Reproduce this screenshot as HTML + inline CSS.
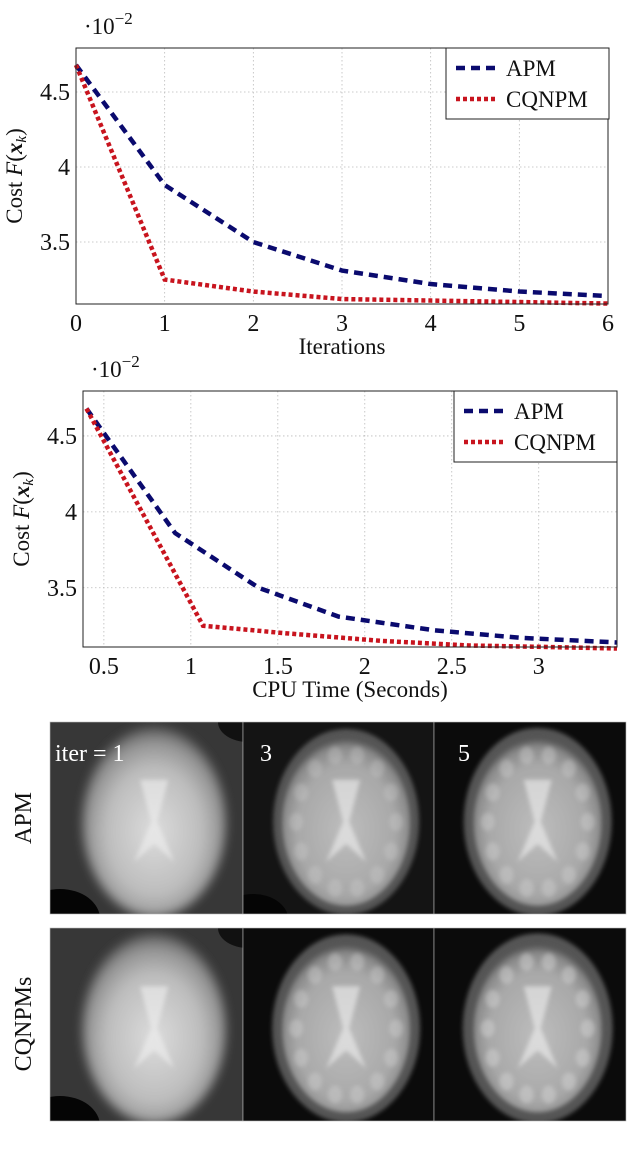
<!DOCTYPE html>
<html><head><meta charset="utf-8">
<style>
html,body{margin:0;padding:0;background:#fff;}
svg{display:block;font-family:"Liberation Serif",serif;}
</style></head>
<body>
<svg id="fig" width="629" height="1163" viewBox="0 0 629 1163">
<defs id="defs">
  <filter id="blur3" x="-20%" y="-20%" width="140%" height="140%"><feGaussianBlur stdDeviation="5"/></filter>
  <filter id="blur1" x="-20%" y="-20%" width="140%" height="140%"><feGaussianBlur stdDeviation="2.2"/></filter>
  <radialGradient id="brainSoft" cx="50%" cy="55%" r="55%">
    <stop offset="0" stop-color="#dcdcdc"/><stop offset="0.6" stop-color="#bdbdbd"/><stop offset="0.85" stop-color="#939393"/><stop offset="1" stop-color="#555"/>
  </radialGradient>
  <radialGradient id="brainMid" cx="50%" cy="55%" r="55%">
    <stop offset="0" stop-color="#bdbdbd"/><stop offset="0.7" stop-color="#a8a8a8"/><stop offset="0.9" stop-color="#8a8a8a"/><stop offset="1" stop-color="#505050"/>
  </radialGradient>
</defs>
<g id="chart1"></g>
<g id="chart2"></g>
<g id="images"></g>
</svg>
<script>
// ---- Chart 1 data ----
const iterCategories = [0, 1, 2, 3, 4, 5, 6];
const iterApm = [4.68, 3.88, 3.50, 3.31, 3.22, 3.17, 3.14];
const iterCqnpm = [4.68, 3.25, 3.17, 3.12, 3.11, 3.10, 3.09];
const iterXTicks = ["0","1","2","3","4","5","6"];
const iterYTicks = ["3.5","4","4.5"];
// ---- Chart 2 data ----
const cpuApmX = [0.40, 0.91, 1.39, 1.85, 2.40, 2.90, 3.45];
const cpuApmY = [4.68, 3.86, 3.50, 3.31, 3.22, 3.17, 3.14];
const cpuCqnpmX = [0.40, 1.07, 1.55, 2.10, 2.60, 3.05, 3.45];
const cpuCqnpmY = [4.68, 3.25, 3.20, 3.15, 3.12, 3.11, 3.10];
const cpuXTicks = ["0.5","1","1.5","2","2.5","3"];
const cpuYTicks = ["3.5","4","4.5"];

const NS = "http://www.w3.org/2000/svg";
function mk(tag, attrs, parent){const e=document.createElementNS(NS,tag);for(const k in attrs)e.setAttribute(k,attrs[k]);parent.appendChild(e);return e;}

function drawChart(g, box, xdom, ydom, xticks, yticks, series, xlabel, legendBox){
  const sx=v=>box.l+(v-xdom[0])/(xdom[1]-xdom[0])*(box.r-box.l);
  const sy=v=>box.b-(v-ydom[0])/(ydom[1]-ydom[0])*(box.b-box.t);
  xticks.forEach(t=>{const x=sx(parseFloat(t));
    const gl=mk('line',{x1:x,x2:x,y1:box.t,y2:box.b,stroke:'#bbb','stroke-width':0.8,'stroke-dasharray':'1.5 2.5'},g);
    
    
    const tx=mk('text',{x:x,y:box.b+27,'font-size':24,'text-anchor':'middle',fill:'#111'},g);tx.textContent=t;
    
    
  });
  yticks.forEach(t=>{const y=sy(parseFloat(t));
    const gl=mk('line',{x1:box.l,x2:box.r,y1:y,y2:y,stroke:'#bbb','stroke-width':0.8,'stroke-dasharray':'1.5 2.5'},g);
    
    
    const tx=mk('text',{x:box.l-6,y:y+8,'font-size':24,'text-anchor':'end',fill:'#111'},g);tx.textContent=t;
    
    
  });
  series.forEach(s=>{
    const pts=s.x.map((v,i)=>sx(v)+','+sy(s.y[i])).join(' ');
    const pl=mk('polyline',{points:pts,fill:'none',stroke:s.color,'stroke-width':4.5,'stroke-dasharray':s.dash},g);
    
    
  });
  const fr=mk('rect',{x:box.l,y:box.t,width:box.r-box.l,height:box.b-box.t,fill:'none',stroke:'#222','stroke-width':1},g);
  
  
  const mult=mk('text',{x:box.l+8,y:box.t-14,'font-size':23,fill:'#111'},g);
  mult.innerHTML='·10<tspan dy="-10" font-size="17">−2</tspan>';
  
  
  const yl=mk('text',{transform:`translate(${box.l-54},${(box.t+box.b)/2}) rotate(-90)`,'font-size':23,'text-anchor':'middle',fill:'#111'},g);
  yl.innerHTML='Cost <tspan font-style="italic">F</tspan>(<tspan font-style="italic" font-weight="bold">x</tspan><tspan font-style="italic" font-size="15" dy="4">k</tspan><tspan dy="-4">)</tspan>';
  
  
  const xl=mk('text',{x:(box.l+box.r)/2,y:box.b+50,'font-size':23,'text-anchor':'middle',fill:'#111'},g);xl.textContent=xlabel;
  
  
  const lg=mk('g',{},g);
  
  
  mk('rect',{x:legendBox.x,y:legendBox.y,width:legendBox.w,height:legendBox.h,fill:'#fff',stroke:'#222','stroke-width':1},lg);
  series.forEach((s,i)=>{const y=legendBox.y+20+i*31;
    mk('line',{x1:legendBox.x+10,x2:legendBox.x+50,y1:y,y2:y,stroke:s.color,'stroke-width':4.5,'stroke-dasharray':s.dash},lg);
    const t=mk('text',{x:legendBox.x+60,y:y+8,'font-size':23,fill:'#111'},lg);t.textContent=s.label;
    
    
  });
}
drawChart(document.getElementById('chart1'),{l:76,r:608,t:48,b:304},[0,6],[3.087,4.793],iterXTicks,iterYTicks,
 [{x:iterCategories,y:iterApm,color:'#0a0a6e',dash:'9 6',name:'apm-line',label:'APM'},
  {x:iterCategories,y:iterCqnpm,color:'#c8141e',dash:'4 3',name:'cqnpm-line',label:'CQNPM'}],
 'Iterations',{x:446,y:48,w:163,h:71});
drawChart(document.getElementById('chart2'),{l:83,r:617,t:391,b:647},[0.38,3.45],[3.11,4.796],cpuXTicks,cpuYTicks,
 [{x:cpuApmX,y:cpuApmY,color:'#0a0a6e',dash:'9 6',name:'apm-line',label:'APM'},
  {x:cpuCqnpmX,y:cpuCqnpmY,color:'#c8141e',dash:'4 3',name:'cqnpm-line',label:'CQNPM'}],
 'CPU Time (Seconds)',{x:454,y:391,w:163,h:71});

// ---- images ----
const ig=document.getElementById('images');
const defs=document.getElementById('defs');
const cols=[{x:50,w:193},{x:243,w:191},{x:434,w:192}];
const rows=[{y:722,h:192},{y:928,h:193}];
const panels=[[0,1,2],[0,2,3]];
rows.forEach((r,ri)=>cols.forEach((c,ci)=>{
  const lvl=panels[ri][ci];
  const id='clip'+ri+ci;
  const cp=mk('clipPath',{id:id},defs);
  mk('rect',{x:c.x,y:r.y,width:c.w,height:r.h},cp);
  const g=mk('g',{'clip-path':`url(#${id})`},ig);
  
  
  mk('rect',{x:c.x,y:r.y,width:c.w,height:r.h,fill:lvl===0?'#373737':(lvl===1?'#141414':'#0b0b0b')},g);
  const cx=c.x+c.w*0.54, cy=r.y+r.h*0.52;
  if(lvl===0){
    mk('ellipse',{cx:c.x+10,cy:r.y+r.h+5,rx:40,ry:30,fill:'#050505'},g);
    mk('ellipse',{cx:c.x+c.w+5,cy:r.y,rx:30,ry:20,fill:'#111'},g);
    mk('ellipse',{cx:cx,cy:cy,rx:72,ry:95,fill:'url(#brainSoft)',filter:'url(#blur3)'},g);
  } else {
    if(lvl===1){
      mk('ellipse',{cx:c.x+10,cy:r.y+r.h+5,rx:35,ry:25,fill:'#050505'},g);
    }
    mk('ellipse',{cx:cx,cy:cy,rx:72+lvl,ry:92+lvl,fill:'#555',filter:'url(#blur1)'},g);
    mk('ellipse',{cx:cx,cy:cy,rx:64,ry:84,fill:'url(#brainMid)',filter:'url(#blur1)'},g);
    for(let k=0;k<14;k++){const a=k/14*Math.PI*2;
      mk('ellipse',{cx:cx+Math.cos(a)*50,cy:cy+Math.sin(a)*68,rx:7,ry:9,fill:'#d8d8d8',opacity:0.2+0.08*lvl,filter:'url(#blur1)'},g);}
  }
  mk('path',{d:`M${cx-14} ${cy-42} L${cx+14} ${cy-42} L${cx+3} ${cy} L${cx+20} ${cy+40} L${cx} ${cy+22} L${cx-20} ${cy+40} L${cx-3} ${cy} Z`,fill:'#efefef',opacity:0.6,filter:'url(#blur1)'},g);
  const fr=mk('rect',{x:c.x,y:r.y,width:c.w,height:r.h,fill:'none',stroke:'#bbb','stroke-width':0.6},ig);
  
  
}));
const labs=[['iter = 1',55],['3',260],['5',458]];
labs.forEach(l=>{const t=mk('text',{x:l[1],y:761,'font-size':24,fill:'#fff'},ig);t.textContent=l[0];
  
  });
const r1=mk('text',{transform:'translate(31,818) rotate(-90)','font-size':24,'text-anchor':'middle',fill:'#111'},ig);r1.textContent='APM';


const r2=mk('text',{transform:'translate(31,1024) rotate(-90)','font-size':24,'text-anchor':'middle',fill:'#111'},ig);r2.textContent='CQNPMs';


</script>
</body></html>
